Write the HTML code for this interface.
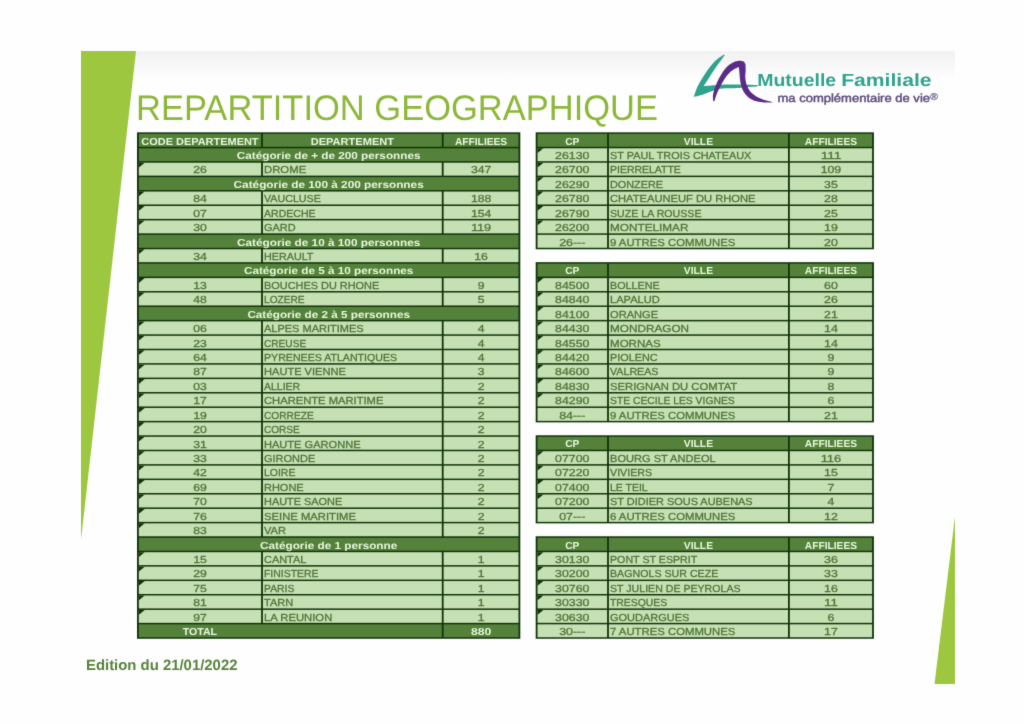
<!DOCTYPE html>
<html lang="fr">
<head>
<meta charset="utf-8">
<title>REPARTITION GEOGRAPHIQUE</title>
<style>
html,body{margin:0;padding:0;background:#fff;}
body{width:1024px;height:724px;overflow:hidden;position:relative;font-family:"Liberation Sans",sans-serif;}
svg{position:absolute;left:0;top:0;display:block;}
text{font-family:"Liberation Sans",sans-serif;text-rendering:geometricPrecision;}
.hb{font-size:10.2px;font-weight:bold;fill:#e8f6dd;}
.d{font-size:10.2px;fill:#507539;stroke:#507539;stroke-width:0.3px;}
.title{font-size:35.6px;fill:#8db73a;}
.foot{font-size:14.9px;font-weight:bold;fill:#57823c;}
.mf{font-weight:bold;font-size:17.6px;fill:#2fa38c;}
.mc{font-size:11.6px;fill:#5c4d7c;stroke:#5c4d7c;stroke-width:0.45px;}
</style>
</head>
<body>
<svg width="1024" height="724" viewBox="0 0 1024 724">
<defs>
<linearGradient id="tg" x1="0" y1="0" x2="0" y2="1"><stop offset="0" stop-color="#f1f1f1"/><stop offset="1" stop-color="#ffffff"/></linearGradient>
<filter id="soft" x="0" y="0" width="100%" height="100%" color-interpolation-filters="sRGB"><feConvolveMatrix order="3" kernelMatrix="0.0183 0.1353 0.0183 0.1353 1.0000 0.1353 0.0183 0.1353 0.0183" edgeMode="duplicate"/></filter>
</defs>
<g filter="url(#soft)">
<rect x="0" y="0" width="1024" height="724" fill="#fefefe"/>
<rect x="81" y="51" width="874" height="31" fill="url(#tg)"/>
<polygon points="81,51 136,51 81,540" fill="#9cc73e"/>
<polygon points="955,516.5 955,684 934.5,684" fill="#9cc73e"/>
<text x="136" y="120" class="title" textLength="522" lengthAdjust="spacingAndGlyphs">REPARTITION GEOGRAPHIQUE</text>
<g id="logo">
<path d="M724.0 54.4C722.4 55.6 717.6 58.4 714.4 61.7C711.2 65.0 707.4 70.3 704.6 74.4C701.9 78.4 699.6 82.3 697.8 86.1C696.0 89.9 694.4 95.2 693.7 97.0C695.0 96.7 699.1 95.9 701.7 95.1C704.4 94.3 707.1 93.1 709.5 92.1C712.0 91.2 713.8 90.1 716.4 89.4C719.0 88.8 721.4 88.5 725.2 88.2C728.9 88.0 734.9 88.3 738.8 88.0C742.7 87.8 745.5 87.1 748.6 86.9C751.7 86.6 756.1 86.5 757.6 86.4C757.6 86.2 757.6 85.2 757.6 85.0C756.1 85.0 751.7 84.8 748.6 84.7C745.5 84.6 742.9 84.5 738.8 84.4C734.8 84.4 728.2 84.4 724.2 84.5C720.1 84.7 717.8 84.9 714.4 85.2C711.0 85.5 705.5 85.9 703.7 86.1C704.4 85.0 706.1 82.3 707.8 79.7C709.4 77.2 711.5 73.8 713.4 70.9C715.3 68.1 717.2 65.5 719.1 62.8C721.0 60.2 723.8 56.5 724.8 55.2C724.6 55.1 724.1 54.6 724.0 54.4Z" fill="#2fa38c"/>
<path d="M713.2 101.2C713.2 100.2 712.7 97.2 713.0 94.9C713.4 92.5 714.1 90.0 715.2 87.1C716.3 84.1 717.7 80.6 719.6 77.3C721.4 74.0 724.1 70.0 726.3 67.5C728.6 65.1 730.9 63.8 733.0 62.6C735.1 61.5 737.1 61.0 738.8 60.8C740.5 60.6 742.1 60.7 743.2 61.3C744.3 61.8 745.1 63.6 745.5 64.1C745.5 65.2 745.7 68.3 745.7 70.5C745.6 72.7 745.1 74.9 745.3 77.3C745.5 79.7 745.9 82.7 746.8 85.1C747.7 87.6 748.8 89.9 750.7 91.9C752.7 94.0 755.8 96.2 758.4 97.6C760.9 99.0 763.6 99.8 766.2 100.5C768.7 101.3 772.4 101.9 773.6 102.2C772.4 102.2 769.0 102.6 766.2 102.5C763.3 102.3 759.3 102.2 756.4 101.3C753.5 100.5 750.8 99.1 748.6 97.4C746.4 95.7 744.6 93.5 743.2 91.0C741.9 88.4 741.0 85.3 740.4 82.2C739.8 79.1 739.7 74.9 739.4 72.4C739.2 69.9 738.9 68.0 738.8 67.1C737.7 67.7 734.4 68.7 732.2 70.4C730.0 72.0 727.7 74.5 725.7 77.2C723.8 79.9 721.8 83.4 720.3 86.4C718.7 89.3 717.3 92.4 716.4 94.9C715.4 97.3 714.9 99.9 714.6 100.9C714.7 101.0 713.5 101.2 713.2 101.2Z" fill="#5b2c86"/>
<text y="86.4" class="mf"><tspan x="757.2" textLength="79" lengthAdjust="spacingAndGlyphs">Mutuelle</tspan> <tspan x="841.2" textLength="90.4" lengthAdjust="spacingAndGlyphs">Familiale</tspan></text>
<text x="777.5" y="102" class="mc" textLength="152.5" lengthAdjust="spacingAndGlyphs">ma complémentaire de vie</text>
<text x="930.3" y="100.2" class="mc" style="font-size:10px;stroke-width:0.2px" textLength="7.6" lengthAdjust="spacingAndGlyphs">®</text>
</g>
<g>
<rect x="137" y="132.35" width="383.3" height="506.41" fill="#10330a"/>
<rect x="138.8" y="133.85" width="122.3" height="12.93" fill="#54823a"/>
<text x="199.95" y="144.6" text-anchor="middle" class="hb" textLength="117.25" lengthAdjust="spacingAndGlyphs">CODE DEPARTEMENT</text>
<rect x="262.9" y="133.85" width="178.9" height="12.93" fill="#54823a"/>
<text x="352.35" y="144.6" text-anchor="middle" class="hb" textLength="83.31" lengthAdjust="spacingAndGlyphs">DEPARTEMENT</text>
<rect x="443.6" y="133.85" width="74.9" height="12.93" fill="#54823a"/>
<text x="481.05" y="144.6" text-anchor="middle" class="hb" textLength="52.31" lengthAdjust="spacingAndGlyphs">AFFILIEES</text>
<rect x="138.8" y="148.28" width="379.7" height="12.93" fill="#54823a"/>
<text x="328.65" y="159.03" text-anchor="middle" class="hb" textLength="183.64" lengthAdjust="spacingAndGlyphs">Catégorie de + de 200 personnes</text>
<rect x="138.8" y="162.7" width="122.3" height="12.93" fill="#c5e0b3"/>
<rect x="262.9" y="162.7" width="178.9" height="12.93" fill="#c5e0b3"/>
<rect x="443.6" y="162.7" width="74.9" height="12.93" fill="#c5e0b3"/>
<path d="M138.8 162.7h5.9L138.8 167.5z" fill="#10330a"/>
<text x="199.95" y="173.45" text-anchor="middle" class="d" textLength="13.56" lengthAdjust="spacingAndGlyphs">26</text>
<text x="264" y="173.45" text-anchor="start" class="d" textLength="42.2" lengthAdjust="spacingAndGlyphs">DROME</text>
<text x="481.05" y="173.45" text-anchor="middle" class="d" textLength="20.35" lengthAdjust="spacingAndGlyphs">347</text>
<rect x="138.8" y="177.13" width="379.7" height="12.93" fill="#54823a"/>
<text x="328.65" y="187.88" text-anchor="middle" class="hb" textLength="190.12" lengthAdjust="spacingAndGlyphs">Catégorie de 100 à 200 personnes</text>
<rect x="138.8" y="191.55" width="122.3" height="12.93" fill="#c5e0b3"/>
<rect x="262.9" y="191.55" width="178.9" height="12.93" fill="#c5e0b3"/>
<rect x="443.6" y="191.55" width="74.9" height="12.93" fill="#c5e0b3"/>
<path d="M138.8 191.55h5.9L138.8 196.35z" fill="#10330a"/>
<text x="199.95" y="202.3" text-anchor="middle" class="d" textLength="13.56" lengthAdjust="spacingAndGlyphs">84</text>
<text x="264" y="202.3" text-anchor="start" class="d" textLength="56.82" lengthAdjust="spacingAndGlyphs">VAUCLUSE</text>
<text x="481.05" y="202.3" text-anchor="middle" class="d" textLength="20.35" lengthAdjust="spacingAndGlyphs">188</text>
<rect x="138.8" y="205.98" width="122.3" height="12.93" fill="#c5e0b3"/>
<rect x="262.9" y="205.98" width="178.9" height="12.93" fill="#c5e0b3"/>
<rect x="443.6" y="205.98" width="74.9" height="12.93" fill="#c5e0b3"/>
<path d="M138.8 205.98h5.9L138.8 210.78z" fill="#10330a"/>
<text x="199.95" y="216.73" text-anchor="middle" class="d" textLength="13.56" lengthAdjust="spacingAndGlyphs">07</text>
<text x="264" y="216.73" text-anchor="start" class="d" textLength="51.62" lengthAdjust="spacingAndGlyphs">ARDECHE</text>
<text x="481.05" y="216.73" text-anchor="middle" class="d" textLength="20.35" lengthAdjust="spacingAndGlyphs">154</text>
<rect x="138.8" y="220.41" width="122.3" height="12.93" fill="#c5e0b3"/>
<rect x="262.9" y="220.41" width="178.9" height="12.93" fill="#c5e0b3"/>
<rect x="443.6" y="220.41" width="74.9" height="12.93" fill="#c5e0b3"/>
<path d="M138.8 220.41h5.9L138.8 225.21z" fill="#10330a"/>
<text x="199.95" y="231.16" text-anchor="middle" class="d" textLength="13.56" lengthAdjust="spacingAndGlyphs">30</text>
<text x="264" y="231.16" text-anchor="start" class="d" textLength="31.68" lengthAdjust="spacingAndGlyphs">GARD</text>
<text x="481.05" y="231.16" text-anchor="middle" class="d" textLength="20.35" lengthAdjust="spacingAndGlyphs">119</text>
<rect x="138.8" y="234.83" width="379.7" height="12.93" fill="#54823a"/>
<text x="328.65" y="245.58" text-anchor="middle" class="hb" textLength="183.22" lengthAdjust="spacingAndGlyphs">Catégorie de 10 à 100 personnes</text>
<rect x="138.8" y="249.26" width="122.3" height="12.93" fill="#c5e0b3"/>
<rect x="262.9" y="249.26" width="178.9" height="12.93" fill="#c5e0b3"/>
<rect x="443.6" y="249.26" width="74.9" height="12.93" fill="#c5e0b3"/>
<path d="M138.8 249.26h5.9L138.8 254.06z" fill="#10330a"/>
<text x="199.95" y="260.01" text-anchor="middle" class="d" textLength="13.56" lengthAdjust="spacingAndGlyphs">34</text>
<text x="264" y="260.01" text-anchor="start" class="d" textLength="49.42" lengthAdjust="spacingAndGlyphs">HERAULT</text>
<text x="481.05" y="260.01" text-anchor="middle" class="d" textLength="13.56" lengthAdjust="spacingAndGlyphs">16</text>
<rect x="138.8" y="263.68" width="379.7" height="12.93" fill="#54823a"/>
<text x="328.65" y="274.43" text-anchor="middle" class="hb" textLength="169.41" lengthAdjust="spacingAndGlyphs">Catégorie de 5 à 10 personnes</text>
<rect x="138.8" y="278.11" width="122.3" height="12.93" fill="#c5e0b3"/>
<rect x="262.9" y="278.11" width="178.9" height="12.93" fill="#c5e0b3"/>
<rect x="443.6" y="278.11" width="74.9" height="12.93" fill="#c5e0b3"/>
<path d="M138.8 278.11h5.9L138.8 282.91z" fill="#10330a"/>
<text x="199.95" y="288.86" text-anchor="middle" class="d" textLength="13.56" lengthAdjust="spacingAndGlyphs">13</text>
<text x="264" y="288.86" text-anchor="start" class="d" textLength="115.25" lengthAdjust="spacingAndGlyphs">BOUCHES DU RHONE</text>
<text x="481.05" y="288.86" text-anchor="middle" class="d" textLength="6.78" lengthAdjust="spacingAndGlyphs">9</text>
<rect x="138.8" y="292.54" width="122.3" height="12.93" fill="#c5e0b3"/>
<rect x="262.9" y="292.54" width="178.9" height="12.93" fill="#c5e0b3"/>
<rect x="443.6" y="292.54" width="74.9" height="12.93" fill="#c5e0b3"/>
<path d="M138.8 292.54h5.9L138.8 297.34z" fill="#10330a"/>
<text x="199.95" y="303.29" text-anchor="middle" class="d" textLength="13.56" lengthAdjust="spacingAndGlyphs">48</text>
<text x="264" y="303.29" text-anchor="start" class="d" textLength="40.54" lengthAdjust="spacingAndGlyphs">LOZERE</text>
<text x="481.05" y="303.29" text-anchor="middle" class="d" textLength="6.78" lengthAdjust="spacingAndGlyphs">5</text>
<rect x="138.8" y="306.96" width="379.7" height="12.93" fill="#54823a"/>
<text x="328.65" y="317.71" text-anchor="middle" class="hb" textLength="162.51" lengthAdjust="spacingAndGlyphs">Catégorie de 2 à 5 personnes</text>
<rect x="138.8" y="321.39" width="122.3" height="12.93" fill="#c5e0b3"/>
<rect x="262.9" y="321.39" width="178.9" height="12.93" fill="#c5e0b3"/>
<rect x="443.6" y="321.39" width="74.9" height="12.93" fill="#c5e0b3"/>
<path d="M138.8 321.39h5.9L138.8 326.19z" fill="#10330a"/>
<text x="199.95" y="332.14" text-anchor="middle" class="d" textLength="13.56" lengthAdjust="spacingAndGlyphs">06</text>
<text x="264" y="332.14" text-anchor="start" class="d" textLength="99.56" lengthAdjust="spacingAndGlyphs">ALPES MARITIMES</text>
<text x="481.05" y="332.14" text-anchor="middle" class="d" textLength="6.78" lengthAdjust="spacingAndGlyphs">4</text>
<rect x="138.8" y="335.81" width="122.3" height="12.93" fill="#c5e0b3"/>
<rect x="262.9" y="335.81" width="178.9" height="12.93" fill="#c5e0b3"/>
<rect x="443.6" y="335.81" width="74.9" height="12.93" fill="#c5e0b3"/>
<path d="M138.8 335.81h5.9L138.8 340.61z" fill="#10330a"/>
<text x="199.95" y="346.56" text-anchor="middle" class="d" textLength="13.56" lengthAdjust="spacingAndGlyphs">23</text>
<text x="264" y="346.56" text-anchor="start" class="d" textLength="42.2" lengthAdjust="spacingAndGlyphs">CREUSE</text>
<text x="481.05" y="346.56" text-anchor="middle" class="d" textLength="6.78" lengthAdjust="spacingAndGlyphs">4</text>
<rect x="138.8" y="350.24" width="122.3" height="12.93" fill="#c5e0b3"/>
<rect x="262.9" y="350.24" width="178.9" height="12.93" fill="#c5e0b3"/>
<rect x="443.6" y="350.24" width="74.9" height="12.93" fill="#c5e0b3"/>
<path d="M138.8 350.24h5.9L138.8 355.04z" fill="#10330a"/>
<text x="199.95" y="360.99" text-anchor="middle" class="d" textLength="13.56" lengthAdjust="spacingAndGlyphs">64</text>
<text x="264" y="360.99" text-anchor="start" class="d" textLength="133.16" lengthAdjust="spacingAndGlyphs">PYRENEES ATLANTIQUES</text>
<text x="481.05" y="360.99" text-anchor="middle" class="d" textLength="6.78" lengthAdjust="spacingAndGlyphs">4</text>
<rect x="138.8" y="364.67" width="122.3" height="12.93" fill="#c5e0b3"/>
<rect x="262.9" y="364.67" width="178.9" height="12.93" fill="#c5e0b3"/>
<rect x="443.6" y="364.67" width="74.9" height="12.93" fill="#c5e0b3"/>
<path d="M138.8 364.67h5.9L138.8 369.47z" fill="#10330a"/>
<text x="199.95" y="375.42" text-anchor="middle" class="d" textLength="13.56" lengthAdjust="spacingAndGlyphs">87</text>
<text x="264" y="375.42" text-anchor="start" class="d" textLength="81.84" lengthAdjust="spacingAndGlyphs">HAUTE VIENNE</text>
<text x="481.05" y="375.42" text-anchor="middle" class="d" textLength="6.78" lengthAdjust="spacingAndGlyphs">3</text>
<rect x="138.8" y="379.09" width="122.3" height="12.93" fill="#c5e0b3"/>
<rect x="262.9" y="379.09" width="178.9" height="12.93" fill="#c5e0b3"/>
<rect x="443.6" y="379.09" width="74.9" height="12.93" fill="#c5e0b3"/>
<path d="M138.8 379.09h5.9L138.8 383.89z" fill="#10330a"/>
<text x="199.95" y="389.84" text-anchor="middle" class="d" textLength="13.56" lengthAdjust="spacingAndGlyphs">03</text>
<text x="264" y="389.84" text-anchor="start" class="d" textLength="36.16" lengthAdjust="spacingAndGlyphs">ALLIER</text>
<text x="481.05" y="389.84" text-anchor="middle" class="d" textLength="6.78" lengthAdjust="spacingAndGlyphs">2</text>
<rect x="138.8" y="393.52" width="122.3" height="12.93" fill="#c5e0b3"/>
<rect x="262.9" y="393.52" width="178.9" height="12.93" fill="#c5e0b3"/>
<rect x="443.6" y="393.52" width="74.9" height="12.93" fill="#c5e0b3"/>
<path d="M138.8 393.52h5.9L138.8 398.32z" fill="#10330a"/>
<text x="199.95" y="404.27" text-anchor="middle" class="d" textLength="13.56" lengthAdjust="spacingAndGlyphs">17</text>
<text x="264" y="404.27" text-anchor="start" class="d" textLength="119.41" lengthAdjust="spacingAndGlyphs">CHARENTE MARITIME</text>
<text x="481.05" y="404.27" text-anchor="middle" class="d" textLength="6.78" lengthAdjust="spacingAndGlyphs">2</text>
<rect x="138.8" y="407.94" width="122.3" height="12.93" fill="#c5e0b3"/>
<rect x="262.9" y="407.94" width="178.9" height="12.93" fill="#c5e0b3"/>
<rect x="443.6" y="407.94" width="74.9" height="12.93" fill="#c5e0b3"/>
<path d="M138.8 407.94h5.9L138.8 412.74z" fill="#10330a"/>
<text x="199.95" y="418.69" text-anchor="middle" class="d" textLength="13.56" lengthAdjust="spacingAndGlyphs">19</text>
<text x="264" y="418.69" text-anchor="start" class="d" textLength="49.68" lengthAdjust="spacingAndGlyphs">CORREZE</text>
<text x="481.05" y="418.69" text-anchor="middle" class="d" textLength="6.78" lengthAdjust="spacingAndGlyphs">2</text>
<rect x="138.8" y="422.37" width="122.3" height="12.93" fill="#c5e0b3"/>
<rect x="262.9" y="422.37" width="178.9" height="12.93" fill="#c5e0b3"/>
<rect x="443.6" y="422.37" width="74.9" height="12.93" fill="#c5e0b3"/>
<path d="M138.8 422.37h5.9L138.8 427.17z" fill="#10330a"/>
<text x="199.95" y="433.12" text-anchor="middle" class="d" textLength="13.56" lengthAdjust="spacingAndGlyphs">20</text>
<text x="264" y="433.12" text-anchor="start" class="d" textLength="35.65" lengthAdjust="spacingAndGlyphs">CORSE</text>
<text x="481.05" y="433.12" text-anchor="middle" class="d" textLength="6.78" lengthAdjust="spacingAndGlyphs">2</text>
<rect x="138.8" y="436.8" width="122.3" height="12.93" fill="#c5e0b3"/>
<rect x="262.9" y="436.8" width="178.9" height="12.93" fill="#c5e0b3"/>
<rect x="443.6" y="436.8" width="74.9" height="12.93" fill="#c5e0b3"/>
<path d="M138.8 436.8h5.9L138.8 441.6z" fill="#10330a"/>
<text x="199.95" y="447.55" text-anchor="middle" class="d" textLength="13.56" lengthAdjust="spacingAndGlyphs">31</text>
<text x="264" y="447.55" text-anchor="start" class="d" textLength="96.52" lengthAdjust="spacingAndGlyphs">HAUTE GARONNE</text>
<text x="481.05" y="447.55" text-anchor="middle" class="d" textLength="6.78" lengthAdjust="spacingAndGlyphs">2</text>
<rect x="138.8" y="451.22" width="122.3" height="12.93" fill="#c5e0b3"/>
<rect x="262.9" y="451.22" width="178.9" height="12.93" fill="#c5e0b3"/>
<rect x="443.6" y="451.22" width="74.9" height="12.93" fill="#c5e0b3"/>
<path d="M138.8 451.22h5.9L138.8 456.02z" fill="#10330a"/>
<text x="199.95" y="461.97" text-anchor="middle" class="d" textLength="13.56" lengthAdjust="spacingAndGlyphs">33</text>
<text x="264" y="461.97" text-anchor="start" class="d" textLength="51.21" lengthAdjust="spacingAndGlyphs">GIRONDE</text>
<text x="481.05" y="461.97" text-anchor="middle" class="d" textLength="6.78" lengthAdjust="spacingAndGlyphs">2</text>
<rect x="138.8" y="465.65" width="122.3" height="12.93" fill="#c5e0b3"/>
<rect x="262.9" y="465.65" width="178.9" height="12.93" fill="#c5e0b3"/>
<rect x="443.6" y="465.65" width="74.9" height="12.93" fill="#c5e0b3"/>
<path d="M138.8 465.65h5.9L138.8 470.45z" fill="#10330a"/>
<text x="199.95" y="476.4" text-anchor="middle" class="d" textLength="13.56" lengthAdjust="spacingAndGlyphs">42</text>
<text x="264" y="476.4" text-anchor="start" class="d" textLength="31.36" lengthAdjust="spacingAndGlyphs">LOIRE</text>
<text x="481.05" y="476.4" text-anchor="middle" class="d" textLength="6.78" lengthAdjust="spacingAndGlyphs">2</text>
<rect x="138.8" y="480.07" width="122.3" height="12.93" fill="#c5e0b3"/>
<rect x="262.9" y="480.07" width="178.9" height="12.93" fill="#c5e0b3"/>
<rect x="443.6" y="480.07" width="74.9" height="12.93" fill="#c5e0b3"/>
<path d="M138.8 480.07h5.9L138.8 484.87z" fill="#10330a"/>
<text x="199.95" y="490.82" text-anchor="middle" class="d" textLength="13.56" lengthAdjust="spacingAndGlyphs">69</text>
<text x="264" y="490.82" text-anchor="start" class="d" textLength="39.63" lengthAdjust="spacingAndGlyphs">RHONE</text>
<text x="481.05" y="490.82" text-anchor="middle" class="d" textLength="6.78" lengthAdjust="spacingAndGlyphs">2</text>
<rect x="138.8" y="494.5" width="122.3" height="12.93" fill="#c5e0b3"/>
<rect x="262.9" y="494.5" width="178.9" height="12.93" fill="#c5e0b3"/>
<rect x="443.6" y="494.5" width="74.9" height="12.93" fill="#c5e0b3"/>
<path d="M138.8 494.5h5.9L138.8 499.3z" fill="#10330a"/>
<text x="199.95" y="505.25" text-anchor="middle" class="d" textLength="13.56" lengthAdjust="spacingAndGlyphs">70</text>
<text x="264" y="505.25" text-anchor="start" class="d" textLength="78.2" lengthAdjust="spacingAndGlyphs">HAUTE SAONE</text>
<text x="481.05" y="505.25" text-anchor="middle" class="d" textLength="6.78" lengthAdjust="spacingAndGlyphs">2</text>
<rect x="138.8" y="508.93" width="122.3" height="12.93" fill="#c5e0b3"/>
<rect x="262.9" y="508.93" width="178.9" height="12.93" fill="#c5e0b3"/>
<rect x="443.6" y="508.93" width="74.9" height="12.93" fill="#c5e0b3"/>
<path d="M138.8 508.93h5.9L138.8 513.73z" fill="#10330a"/>
<text x="199.95" y="519.68" text-anchor="middle" class="d" textLength="13.56" lengthAdjust="spacingAndGlyphs">76</text>
<text x="264" y="519.68" text-anchor="start" class="d" textLength="91.93" lengthAdjust="spacingAndGlyphs">SEINE MARITIME</text>
<text x="481.05" y="519.68" text-anchor="middle" class="d" textLength="6.78" lengthAdjust="spacingAndGlyphs">2</text>
<rect x="138.8" y="523.35" width="122.3" height="12.93" fill="#c5e0b3"/>
<rect x="262.9" y="523.35" width="178.9" height="12.93" fill="#c5e0b3"/>
<rect x="443.6" y="523.35" width="74.9" height="12.93" fill="#c5e0b3"/>
<path d="M138.8 523.35h5.9L138.8 528.15z" fill="#10330a"/>
<text x="199.95" y="534.1" text-anchor="middle" class="d" textLength="13.56" lengthAdjust="spacingAndGlyphs">83</text>
<text x="264" y="534.1" text-anchor="start" class="d" textLength="21.97" lengthAdjust="spacingAndGlyphs">VAR</text>
<text x="481.05" y="534.1" text-anchor="middle" class="d" textLength="6.78" lengthAdjust="spacingAndGlyphs">2</text>
<rect x="138.8" y="537.78" width="379.7" height="12.93" fill="#54823a"/>
<text x="328.65" y="548.53" text-anchor="middle" class="hb" textLength="137.29" lengthAdjust="spacingAndGlyphs">Catégorie de 1 personne</text>
<rect x="138.8" y="552.2" width="122.3" height="12.93" fill="#c5e0b3"/>
<rect x="262.9" y="552.2" width="178.9" height="12.93" fill="#c5e0b3"/>
<rect x="443.6" y="552.2" width="74.9" height="12.93" fill="#c5e0b3"/>
<path d="M138.8 552.2h5.9L138.8 557z" fill="#10330a"/>
<text x="199.95" y="562.95" text-anchor="middle" class="d" textLength="13.56" lengthAdjust="spacingAndGlyphs">15</text>
<text x="264" y="562.95" text-anchor="start" class="d" textLength="42.36" lengthAdjust="spacingAndGlyphs">CANTAL</text>
<text x="481.05" y="562.95" text-anchor="middle" class="d" textLength="6.78" lengthAdjust="spacingAndGlyphs">1</text>
<rect x="138.8" y="566.63" width="122.3" height="12.93" fill="#c5e0b3"/>
<rect x="262.9" y="566.63" width="178.9" height="12.93" fill="#c5e0b3"/>
<rect x="443.6" y="566.63" width="74.9" height="12.93" fill="#c5e0b3"/>
<path d="M138.8 566.63h5.9L138.8 571.43z" fill="#10330a"/>
<text x="199.95" y="577.38" text-anchor="middle" class="d" textLength="13.56" lengthAdjust="spacingAndGlyphs">29</text>
<text x="264" y="577.38" text-anchor="start" class="d" textLength="54.44" lengthAdjust="spacingAndGlyphs">FINISTERE</text>
<text x="481.05" y="577.38" text-anchor="middle" class="d" textLength="6.78" lengthAdjust="spacingAndGlyphs">1</text>
<rect x="138.8" y="581.06" width="122.3" height="12.93" fill="#c5e0b3"/>
<rect x="262.9" y="581.06" width="178.9" height="12.93" fill="#c5e0b3"/>
<rect x="443.6" y="581.06" width="74.9" height="12.93" fill="#c5e0b3"/>
<path d="M138.8 581.06h5.9L138.8 585.86z" fill="#10330a"/>
<text x="199.95" y="591.81" text-anchor="middle" class="d" textLength="13.56" lengthAdjust="spacingAndGlyphs">75</text>
<text x="264" y="591.81" text-anchor="start" class="d" textLength="30.45" lengthAdjust="spacingAndGlyphs">PARIS</text>
<text x="481.05" y="591.81" text-anchor="middle" class="d" textLength="6.78" lengthAdjust="spacingAndGlyphs">1</text>
<rect x="138.8" y="595.48" width="122.3" height="12.93" fill="#c5e0b3"/>
<rect x="262.9" y="595.48" width="178.9" height="12.93" fill="#c5e0b3"/>
<rect x="443.6" y="595.48" width="74.9" height="12.93" fill="#c5e0b3"/>
<path d="M138.8 595.48h5.9L138.8 600.28z" fill="#10330a"/>
<text x="199.95" y="606.23" text-anchor="middle" class="d" textLength="13.56" lengthAdjust="spacingAndGlyphs">81</text>
<text x="264" y="606.23" text-anchor="start" class="d" textLength="29.12" lengthAdjust="spacingAndGlyphs">TARN</text>
<text x="481.05" y="606.23" text-anchor="middle" class="d" textLength="6.78" lengthAdjust="spacingAndGlyphs">1</text>
<rect x="138.8" y="609.91" width="122.3" height="12.93" fill="#c5e0b3"/>
<rect x="262.9" y="609.91" width="178.9" height="12.93" fill="#c5e0b3"/>
<rect x="443.6" y="609.91" width="74.9" height="12.93" fill="#c5e0b3"/>
<path d="M138.8 609.91h5.9L138.8 614.71z" fill="#10330a"/>
<text x="199.95" y="620.66" text-anchor="middle" class="d" textLength="13.56" lengthAdjust="spacingAndGlyphs">97</text>
<text x="264" y="620.66" text-anchor="start" class="d" textLength="68.28" lengthAdjust="spacingAndGlyphs">LA REUNION</text>
<text x="481.05" y="620.66" text-anchor="middle" class="d" textLength="6.78" lengthAdjust="spacingAndGlyphs">1</text>
<rect x="138.8" y="624.33" width="303" height="12.93" fill="#54823a"/>
<rect x="443.6" y="624.33" width="74.9" height="12.93" fill="#54823a"/>
<text x="199.95" y="635.08" text-anchor="middle" class="hb" textLength="34.28" lengthAdjust="spacingAndGlyphs">TOTAL</text>
<text x="481.05" y="635.08" text-anchor="middle" class="hb" textLength="20.3" lengthAdjust="spacingAndGlyphs">880</text>
</g>
<g>
<rect x="535.7" y="132.35" width="338.2" height="116.91" fill="#10330a"/>
<rect x="537.5" y="133.85" width="69.6" height="12.93" fill="#54823a"/>
<text x="572.3" y="144.6" text-anchor="middle" class="hb" textLength="14.17" lengthAdjust="spacingAndGlyphs">CP</text>
<rect x="608.9" y="133.85" width="179.1" height="12.93" fill="#54823a"/>
<text x="698.45" y="144.6" text-anchor="middle" class="hb" textLength="29.25" lengthAdjust="spacingAndGlyphs">VILLE</text>
<rect x="789.8" y="133.85" width="82.3" height="12.93" fill="#54823a"/>
<text x="830.95" y="144.6" text-anchor="middle" class="hb" textLength="52.31" lengthAdjust="spacingAndGlyphs">AFFILIEES</text>
<rect x="537.5" y="148.28" width="69.6" height="12.93" fill="#c5e0b3"/>
<rect x="608.9" y="148.28" width="179.1" height="12.93" fill="#c5e0b3"/>
<rect x="789.8" y="148.28" width="82.3" height="12.93" fill="#c5e0b3"/>
<path d="M537.5 148.28h5.9L537.5 153.08z" fill="#10330a"/>
<text x="572.3" y="159.03" text-anchor="middle" class="d" textLength="34.34" lengthAdjust="spacingAndGlyphs">26130</text>
<text x="610" y="159.03" text-anchor="start" class="d" textLength="141.27" lengthAdjust="spacingAndGlyphs">ST PAUL TROIS CHATEAUX</text>
<text x="830.95" y="159.03" text-anchor="middle" class="d" textLength="20.6" lengthAdjust="spacingAndGlyphs">111</text>
<rect x="537.5" y="162.7" width="69.6" height="12.93" fill="#c5e0b3"/>
<rect x="608.9" y="162.7" width="179.1" height="12.93" fill="#c5e0b3"/>
<rect x="789.8" y="162.7" width="82.3" height="12.93" fill="#c5e0b3"/>
<path d="M537.5 162.7h5.9L537.5 167.5z" fill="#10330a"/>
<text x="572.3" y="173.45" text-anchor="middle" class="d" textLength="34.34" lengthAdjust="spacingAndGlyphs">26700</text>
<text x="610" y="173.45" text-anchor="start" class="d" textLength="70.85" lengthAdjust="spacingAndGlyphs">PIERRELATTE</text>
<text x="830.95" y="173.45" text-anchor="middle" class="d" textLength="20.6" lengthAdjust="spacingAndGlyphs">109</text>
<rect x="537.5" y="177.13" width="69.6" height="12.93" fill="#c5e0b3"/>
<rect x="608.9" y="177.13" width="179.1" height="12.93" fill="#c5e0b3"/>
<rect x="789.8" y="177.13" width="82.3" height="12.93" fill="#c5e0b3"/>
<path d="M537.5 177.13h5.9L537.5 181.93z" fill="#10330a"/>
<text x="572.3" y="187.88" text-anchor="middle" class="d" textLength="34.34" lengthAdjust="spacingAndGlyphs">26290</text>
<text x="610" y="187.88" text-anchor="start" class="d" textLength="52.99" lengthAdjust="spacingAndGlyphs">DONZERE</text>
<text x="830.95" y="187.88" text-anchor="middle" class="d" textLength="13.74" lengthAdjust="spacingAndGlyphs">35</text>
<rect x="537.5" y="191.55" width="69.6" height="12.93" fill="#c5e0b3"/>
<rect x="608.9" y="191.55" width="179.1" height="12.93" fill="#c5e0b3"/>
<rect x="789.8" y="191.55" width="82.3" height="12.93" fill="#c5e0b3"/>
<path d="M537.5 191.55h5.9L537.5 196.35z" fill="#10330a"/>
<text x="572.3" y="202.3" text-anchor="middle" class="d" textLength="34.34" lengthAdjust="spacingAndGlyphs">26780</text>
<text x="610" y="202.3" text-anchor="start" class="d" textLength="145.42" lengthAdjust="spacingAndGlyphs">CHATEAUNEUF DU RHONE</text>
<text x="830.95" y="202.3" text-anchor="middle" class="d" textLength="13.74" lengthAdjust="spacingAndGlyphs">28</text>
<rect x="537.5" y="205.98" width="69.6" height="12.93" fill="#c5e0b3"/>
<rect x="608.9" y="205.98" width="179.1" height="12.93" fill="#c5e0b3"/>
<rect x="789.8" y="205.98" width="82.3" height="12.93" fill="#c5e0b3"/>
<path d="M537.5 205.98h5.9L537.5 210.78z" fill="#10330a"/>
<text x="572.3" y="216.73" text-anchor="middle" class="d" textLength="34.34" lengthAdjust="spacingAndGlyphs">26790</text>
<text x="610" y="216.73" text-anchor="start" class="d" textLength="91.51" lengthAdjust="spacingAndGlyphs">SUZE LA ROUSSE</text>
<text x="830.95" y="216.73" text-anchor="middle" class="d" textLength="13.74" lengthAdjust="spacingAndGlyphs">25</text>
<rect x="537.5" y="220.41" width="69.6" height="12.93" fill="#c5e0b3"/>
<rect x="608.9" y="220.41" width="179.1" height="12.93" fill="#c5e0b3"/>
<rect x="789.8" y="220.41" width="82.3" height="12.93" fill="#c5e0b3"/>
<path d="M537.5 220.41h5.9L537.5 225.21z" fill="#10330a"/>
<text x="572.3" y="231.16" text-anchor="middle" class="d" textLength="34.34" lengthAdjust="spacingAndGlyphs">26200</text>
<text x="610" y="231.16" text-anchor="start" class="d" textLength="78.42" lengthAdjust="spacingAndGlyphs">MONTELIMAR</text>
<text x="830.95" y="231.16" text-anchor="middle" class="d" textLength="13.74" lengthAdjust="spacingAndGlyphs">19</text>
<rect x="537.5" y="234.83" width="69.6" height="12.93" fill="#c5e0b3"/>
<rect x="608.9" y="234.83" width="179.1" height="12.93" fill="#c5e0b3"/>
<rect x="789.8" y="234.83" width="82.3" height="12.93" fill="#c5e0b3"/>
<text x="572.3" y="245.58" text-anchor="middle" class="d" textLength="26.18" lengthAdjust="spacingAndGlyphs">26---</text>
<text x="610" y="245.58" text-anchor="start" class="d" textLength="125.39" lengthAdjust="spacingAndGlyphs">9 AUTRES COMMUNES</text>
<text x="830.95" y="245.58" text-anchor="middle" class="d" textLength="13.74" lengthAdjust="spacingAndGlyphs">20</text>
</g>
<g>
<rect x="535.7" y="262.18" width="338.2" height="160.19" fill="#10330a"/>
<rect x="537.5" y="263.68" width="69.6" height="12.93" fill="#54823a"/>
<text x="572.3" y="274.43" text-anchor="middle" class="hb" textLength="14.17" lengthAdjust="spacingAndGlyphs">CP</text>
<rect x="608.9" y="263.68" width="179.1" height="12.93" fill="#54823a"/>
<text x="698.45" y="274.43" text-anchor="middle" class="hb" textLength="29.25" lengthAdjust="spacingAndGlyphs">VILLE</text>
<rect x="789.8" y="263.68" width="82.3" height="12.93" fill="#54823a"/>
<text x="830.95" y="274.43" text-anchor="middle" class="hb" textLength="52.31" lengthAdjust="spacingAndGlyphs">AFFILIEES</text>
<rect x="537.5" y="278.11" width="69.6" height="12.93" fill="#c5e0b3"/>
<rect x="608.9" y="278.11" width="179.1" height="12.93" fill="#c5e0b3"/>
<rect x="789.8" y="278.11" width="82.3" height="12.93" fill="#c5e0b3"/>
<path d="M537.5 278.11h5.9L537.5 282.91z" fill="#10330a"/>
<text x="572.3" y="288.86" text-anchor="middle" class="d" textLength="34.34" lengthAdjust="spacingAndGlyphs">84500</text>
<text x="610" y="288.86" text-anchor="start" class="d" textLength="49.72" lengthAdjust="spacingAndGlyphs">BOLLENE</text>
<text x="830.95" y="288.86" text-anchor="middle" class="d" textLength="13.74" lengthAdjust="spacingAndGlyphs">60</text>
<rect x="537.5" y="292.54" width="69.6" height="12.93" fill="#c5e0b3"/>
<rect x="608.9" y="292.54" width="179.1" height="12.93" fill="#c5e0b3"/>
<rect x="789.8" y="292.54" width="82.3" height="12.93" fill="#c5e0b3"/>
<path d="M537.5 292.54h5.9L537.5 297.34z" fill="#10330a"/>
<text x="572.3" y="303.29" text-anchor="middle" class="d" textLength="34.34" lengthAdjust="spacingAndGlyphs">84840</text>
<text x="610" y="303.29" text-anchor="start" class="d" textLength="49.82" lengthAdjust="spacingAndGlyphs">LAPALUD</text>
<text x="830.95" y="303.29" text-anchor="middle" class="d" textLength="13.74" lengthAdjust="spacingAndGlyphs">26</text>
<rect x="537.5" y="306.96" width="69.6" height="12.93" fill="#c5e0b3"/>
<rect x="608.9" y="306.96" width="179.1" height="12.93" fill="#c5e0b3"/>
<rect x="789.8" y="306.96" width="82.3" height="12.93" fill="#c5e0b3"/>
<path d="M537.5 306.96h5.9L537.5 311.76z" fill="#10330a"/>
<text x="572.3" y="317.71" text-anchor="middle" class="d" textLength="34.34" lengthAdjust="spacingAndGlyphs">84100</text>
<text x="610" y="317.71" text-anchor="start" class="d" textLength="48.08" lengthAdjust="spacingAndGlyphs">ORANGE</text>
<text x="830.95" y="317.71" text-anchor="middle" class="d" textLength="13.74" lengthAdjust="spacingAndGlyphs">21</text>
<rect x="537.5" y="321.39" width="69.6" height="12.93" fill="#c5e0b3"/>
<rect x="608.9" y="321.39" width="179.1" height="12.93" fill="#c5e0b3"/>
<rect x="789.8" y="321.39" width="82.3" height="12.93" fill="#c5e0b3"/>
<path d="M537.5 321.39h5.9L537.5 326.19z" fill="#10330a"/>
<text x="572.3" y="332.14" text-anchor="middle" class="d" textLength="34.34" lengthAdjust="spacingAndGlyphs">84430</text>
<text x="610" y="332.14" text-anchor="start" class="d" textLength="79.01" lengthAdjust="spacingAndGlyphs">MONDRAGON</text>
<text x="830.95" y="332.14" text-anchor="middle" class="d" textLength="13.74" lengthAdjust="spacingAndGlyphs">14</text>
<rect x="537.5" y="335.81" width="69.6" height="12.93" fill="#c5e0b3"/>
<rect x="608.9" y="335.81" width="179.1" height="12.93" fill="#c5e0b3"/>
<rect x="789.8" y="335.81" width="82.3" height="12.93" fill="#c5e0b3"/>
<path d="M537.5 335.81h5.9L537.5 340.61z" fill="#10330a"/>
<text x="572.3" y="346.56" text-anchor="middle" class="d" textLength="34.34" lengthAdjust="spacingAndGlyphs">84550</text>
<text x="610" y="346.56" text-anchor="start" class="d" textLength="50.73" lengthAdjust="spacingAndGlyphs">MORNAS</text>
<text x="830.95" y="346.56" text-anchor="middle" class="d" textLength="13.74" lengthAdjust="spacingAndGlyphs">14</text>
<rect x="537.5" y="350.24" width="69.6" height="12.93" fill="#c5e0b3"/>
<rect x="608.9" y="350.24" width="179.1" height="12.93" fill="#c5e0b3"/>
<rect x="789.8" y="350.24" width="82.3" height="12.93" fill="#c5e0b3"/>
<path d="M537.5 350.24h5.9L537.5 355.04z" fill="#10330a"/>
<text x="572.3" y="360.99" text-anchor="middle" class="d" textLength="34.34" lengthAdjust="spacingAndGlyphs">84420</text>
<text x="610" y="360.99" text-anchor="start" class="d" textLength="47.67" lengthAdjust="spacingAndGlyphs">PIOLENC</text>
<text x="830.95" y="360.99" text-anchor="middle" class="d" textLength="6.87" lengthAdjust="spacingAndGlyphs">9</text>
<rect x="537.5" y="364.67" width="69.6" height="12.93" fill="#c5e0b3"/>
<rect x="608.9" y="364.67" width="179.1" height="12.93" fill="#c5e0b3"/>
<rect x="789.8" y="364.67" width="82.3" height="12.93" fill="#c5e0b3"/>
<path d="M537.5 364.67h5.9L537.5 369.47z" fill="#10330a"/>
<text x="572.3" y="375.42" text-anchor="middle" class="d" textLength="34.34" lengthAdjust="spacingAndGlyphs">84600</text>
<text x="610" y="375.42" text-anchor="start" class="d" textLength="48.48" lengthAdjust="spacingAndGlyphs">VALREAS</text>
<text x="830.95" y="375.42" text-anchor="middle" class="d" textLength="6.87" lengthAdjust="spacingAndGlyphs">9</text>
<rect x="537.5" y="379.09" width="69.6" height="12.93" fill="#c5e0b3"/>
<rect x="608.9" y="379.09" width="179.1" height="12.93" fill="#c5e0b3"/>
<rect x="789.8" y="379.09" width="82.3" height="12.93" fill="#c5e0b3"/>
<path d="M537.5 379.09h5.9L537.5 383.89z" fill="#10330a"/>
<text x="572.3" y="389.84" text-anchor="middle" class="d" textLength="34.34" lengthAdjust="spacingAndGlyphs">84830</text>
<text x="610" y="389.84" text-anchor="start" class="d" textLength="127.25" lengthAdjust="spacingAndGlyphs">SERIGNAN DU COMTAT</text>
<text x="830.95" y="389.84" text-anchor="middle" class="d" textLength="6.87" lengthAdjust="spacingAndGlyphs">8</text>
<rect x="537.5" y="393.52" width="69.6" height="12.93" fill="#c5e0b3"/>
<rect x="608.9" y="393.52" width="179.1" height="12.93" fill="#c5e0b3"/>
<rect x="789.8" y="393.52" width="82.3" height="12.93" fill="#c5e0b3"/>
<path d="M537.5 393.52h5.9L537.5 398.32z" fill="#10330a"/>
<text x="572.3" y="404.27" text-anchor="middle" class="d" textLength="34.34" lengthAdjust="spacingAndGlyphs">84290</text>
<text x="610" y="404.27" text-anchor="start" class="d" textLength="124.7" lengthAdjust="spacingAndGlyphs">STE CECILE LES VIGNES</text>
<text x="830.95" y="404.27" text-anchor="middle" class="d" textLength="6.87" lengthAdjust="spacingAndGlyphs">6</text>
<rect x="537.5" y="407.94" width="69.6" height="12.93" fill="#c5e0b3"/>
<rect x="608.9" y="407.94" width="179.1" height="12.93" fill="#c5e0b3"/>
<rect x="789.8" y="407.94" width="82.3" height="12.93" fill="#c5e0b3"/>
<text x="572.3" y="418.69" text-anchor="middle" class="d" textLength="26.18" lengthAdjust="spacingAndGlyphs">84---</text>
<text x="610" y="418.69" text-anchor="start" class="d" textLength="125.39" lengthAdjust="spacingAndGlyphs">9 AUTRES COMMUNES</text>
<text x="830.95" y="418.69" text-anchor="middle" class="d" textLength="13.74" lengthAdjust="spacingAndGlyphs">21</text>
</g>
<g>
<rect x="535.7" y="435.3" width="338.2" height="88.06" fill="#10330a"/>
<rect x="537.5" y="436.8" width="69.6" height="12.93" fill="#54823a"/>
<text x="572.3" y="447.25" text-anchor="middle" class="hb" textLength="14.17" lengthAdjust="spacingAndGlyphs">CP</text>
<rect x="608.9" y="436.8" width="179.1" height="12.93" fill="#54823a"/>
<text x="698.45" y="447.25" text-anchor="middle" class="hb" textLength="29.25" lengthAdjust="spacingAndGlyphs">VILLE</text>
<rect x="789.8" y="436.8" width="82.3" height="12.93" fill="#54823a"/>
<text x="830.95" y="447.25" text-anchor="middle" class="hb" textLength="52.31" lengthAdjust="spacingAndGlyphs">AFFILIEES</text>
<rect x="537.5" y="451.22" width="69.6" height="12.93" fill="#c5e0b3"/>
<rect x="608.9" y="451.22" width="179.1" height="12.93" fill="#c5e0b3"/>
<rect x="789.8" y="451.22" width="82.3" height="12.93" fill="#c5e0b3"/>
<path d="M537.5 451.22h5.9L537.5 456.02z" fill="#10330a"/>
<text x="572.3" y="461.97" text-anchor="middle" class="d" textLength="34.34" lengthAdjust="spacingAndGlyphs">07700</text>
<text x="610" y="461.97" text-anchor="start" class="d" textLength="105.68" lengthAdjust="spacingAndGlyphs">BOURG ST ANDEOL</text>
<text x="830.95" y="461.97" text-anchor="middle" class="d" textLength="20.6" lengthAdjust="spacingAndGlyphs">116</text>
<rect x="537.5" y="465.65" width="69.6" height="12.93" fill="#c5e0b3"/>
<rect x="608.9" y="465.65" width="179.1" height="12.93" fill="#c5e0b3"/>
<rect x="789.8" y="465.65" width="82.3" height="12.93" fill="#c5e0b3"/>
<path d="M537.5 465.65h5.9L537.5 470.45z" fill="#10330a"/>
<text x="572.3" y="476.4" text-anchor="middle" class="d" textLength="34.34" lengthAdjust="spacingAndGlyphs">07220</text>
<text x="610" y="476.4" text-anchor="start" class="d" textLength="42.23" lengthAdjust="spacingAndGlyphs">VIVIERS</text>
<text x="830.95" y="476.4" text-anchor="middle" class="d" textLength="13.74" lengthAdjust="spacingAndGlyphs">15</text>
<rect x="537.5" y="480.07" width="69.6" height="12.93" fill="#c5e0b3"/>
<rect x="608.9" y="480.07" width="179.1" height="12.93" fill="#c5e0b3"/>
<rect x="789.8" y="480.07" width="82.3" height="12.93" fill="#c5e0b3"/>
<path d="M537.5 480.07h5.9L537.5 484.87z" fill="#10330a"/>
<text x="572.3" y="490.82" text-anchor="middle" class="d" textLength="34.34" lengthAdjust="spacingAndGlyphs">07400</text>
<text x="610" y="490.82" text-anchor="start" class="d" textLength="37.71" lengthAdjust="spacingAndGlyphs">LE TEIL</text>
<text x="830.95" y="490.82" text-anchor="middle" class="d" textLength="6.87" lengthAdjust="spacingAndGlyphs">7</text>
<rect x="537.5" y="494.5" width="69.6" height="12.93" fill="#c5e0b3"/>
<rect x="608.9" y="494.5" width="179.1" height="12.93" fill="#c5e0b3"/>
<rect x="789.8" y="494.5" width="82.3" height="12.93" fill="#c5e0b3"/>
<path d="M537.5 494.5h5.9L537.5 499.3z" fill="#10330a"/>
<text x="572.3" y="505.25" text-anchor="middle" class="d" textLength="34.34" lengthAdjust="spacingAndGlyphs">07200</text>
<text x="610" y="505.25" text-anchor="start" class="d" textLength="142.65" lengthAdjust="spacingAndGlyphs">ST DIDIER SOUS AUBENAS</text>
<text x="830.95" y="505.25" text-anchor="middle" class="d" textLength="6.87" lengthAdjust="spacingAndGlyphs">4</text>
<rect x="537.5" y="508.93" width="69.6" height="12.93" fill="#c5e0b3"/>
<rect x="608.9" y="508.93" width="179.1" height="12.93" fill="#c5e0b3"/>
<rect x="789.8" y="508.93" width="82.3" height="12.93" fill="#c5e0b3"/>
<text x="572.3" y="519.68" text-anchor="middle" class="d" textLength="26.18" lengthAdjust="spacingAndGlyphs">07---</text>
<text x="610" y="519.68" text-anchor="start" class="d" textLength="125.39" lengthAdjust="spacingAndGlyphs">6 AUTRES COMMUNES</text>
<text x="830.95" y="519.68" text-anchor="middle" class="d" textLength="13.74" lengthAdjust="spacingAndGlyphs">12</text>
</g>
<g>
<rect x="535.7" y="536.28" width="338.2" height="102.48" fill="#10330a"/>
<rect x="537.5" y="537.78" width="69.6" height="12.93" fill="#54823a"/>
<text x="572.3" y="548.53" text-anchor="middle" class="hb" textLength="14.17" lengthAdjust="spacingAndGlyphs">CP</text>
<rect x="608.9" y="537.78" width="179.1" height="12.93" fill="#54823a"/>
<text x="698.45" y="548.53" text-anchor="middle" class="hb" textLength="29.25" lengthAdjust="spacingAndGlyphs">VILLE</text>
<rect x="789.8" y="537.78" width="82.3" height="12.93" fill="#54823a"/>
<text x="830.95" y="548.53" text-anchor="middle" class="hb" textLength="52.31" lengthAdjust="spacingAndGlyphs">AFFILIEES</text>
<rect x="537.5" y="552.2" width="69.6" height="12.93" fill="#c5e0b3"/>
<rect x="608.9" y="552.2" width="179.1" height="12.93" fill="#c5e0b3"/>
<rect x="789.8" y="552.2" width="82.3" height="12.93" fill="#c5e0b3"/>
<path d="M537.5 552.2h5.9L537.5 557z" fill="#10330a"/>
<text x="572.3" y="562.95" text-anchor="middle" class="d" textLength="34.34" lengthAdjust="spacingAndGlyphs">30130</text>
<text x="610" y="562.95" text-anchor="start" class="d" textLength="87.27" lengthAdjust="spacingAndGlyphs">PONT ST ESPRIT</text>
<text x="830.95" y="562.95" text-anchor="middle" class="d" textLength="13.74" lengthAdjust="spacingAndGlyphs">36</text>
<rect x="537.5" y="566.63" width="69.6" height="12.93" fill="#c5e0b3"/>
<rect x="608.9" y="566.63" width="179.1" height="12.93" fill="#c5e0b3"/>
<rect x="789.8" y="566.63" width="82.3" height="12.93" fill="#c5e0b3"/>
<path d="M537.5 566.63h5.9L537.5 571.43z" fill="#10330a"/>
<text x="572.3" y="577.38" text-anchor="middle" class="d" textLength="34.34" lengthAdjust="spacingAndGlyphs">30200</text>
<text x="610" y="577.38" text-anchor="start" class="d" textLength="108.31" lengthAdjust="spacingAndGlyphs">BAGNOLS SUR CEZE</text>
<text x="830.95" y="577.38" text-anchor="middle" class="d" textLength="13.74" lengthAdjust="spacingAndGlyphs">33</text>
<rect x="537.5" y="581.06" width="69.6" height="12.93" fill="#c5e0b3"/>
<rect x="608.9" y="581.06" width="179.1" height="12.93" fill="#c5e0b3"/>
<rect x="789.8" y="581.06" width="82.3" height="12.93" fill="#c5e0b3"/>
<path d="M537.5 581.06h5.9L537.5 585.86z" fill="#10330a"/>
<text x="572.3" y="591.81" text-anchor="middle" class="d" textLength="34.34" lengthAdjust="spacingAndGlyphs">30760</text>
<text x="610" y="591.81" text-anchor="start" class="d" textLength="130.55" lengthAdjust="spacingAndGlyphs">ST JULIEN DE PEYROLAS</text>
<text x="830.95" y="591.81" text-anchor="middle" class="d" textLength="13.74" lengthAdjust="spacingAndGlyphs">16</text>
<rect x="537.5" y="595.48" width="69.6" height="12.93" fill="#c5e0b3"/>
<rect x="608.9" y="595.48" width="179.1" height="12.93" fill="#c5e0b3"/>
<rect x="789.8" y="595.48" width="82.3" height="12.93" fill="#c5e0b3"/>
<path d="M537.5 595.48h5.9L537.5 600.28z" fill="#10330a"/>
<text x="572.3" y="606.23" text-anchor="middle" class="d" textLength="34.34" lengthAdjust="spacingAndGlyphs">30330</text>
<text x="610" y="606.23" text-anchor="start" class="d" textLength="57.19" lengthAdjust="spacingAndGlyphs">TRESQUES</text>
<text x="830.95" y="606.23" text-anchor="middle" class="d" textLength="13.74" lengthAdjust="spacingAndGlyphs">11</text>
<rect x="537.5" y="609.91" width="69.6" height="12.93" fill="#c5e0b3"/>
<rect x="608.9" y="609.91" width="179.1" height="12.93" fill="#c5e0b3"/>
<rect x="789.8" y="609.91" width="82.3" height="12.93" fill="#c5e0b3"/>
<path d="M537.5 609.91h5.9L537.5 614.71z" fill="#10330a"/>
<text x="572.3" y="620.66" text-anchor="middle" class="d" textLength="34.34" lengthAdjust="spacingAndGlyphs">30630</text>
<text x="610" y="620.66" text-anchor="start" class="d" textLength="79.38" lengthAdjust="spacingAndGlyphs">GOUDARGUES</text>
<text x="830.95" y="620.66" text-anchor="middle" class="d" textLength="6.87" lengthAdjust="spacingAndGlyphs">6</text>
<rect x="537.5" y="624.33" width="69.6" height="12.93" fill="#c5e0b3"/>
<rect x="608.9" y="624.33" width="179.1" height="12.93" fill="#c5e0b3"/>
<rect x="789.8" y="624.33" width="82.3" height="12.93" fill="#c5e0b3"/>
<text x="572.3" y="635.08" text-anchor="middle" class="d" textLength="26.18" lengthAdjust="spacingAndGlyphs">30---</text>
<text x="610" y="635.08" text-anchor="start" class="d" textLength="125.39" lengthAdjust="spacingAndGlyphs">7 AUTRES COMMUNES</text>
<text x="830.95" y="635.08" text-anchor="middle" class="d" textLength="13.74" lengthAdjust="spacingAndGlyphs">17</text>
</g>
<text x="86" y="669.6" class="foot">Edition du 21/01/2022</text>
</g>
</svg>
</body>
</html>
